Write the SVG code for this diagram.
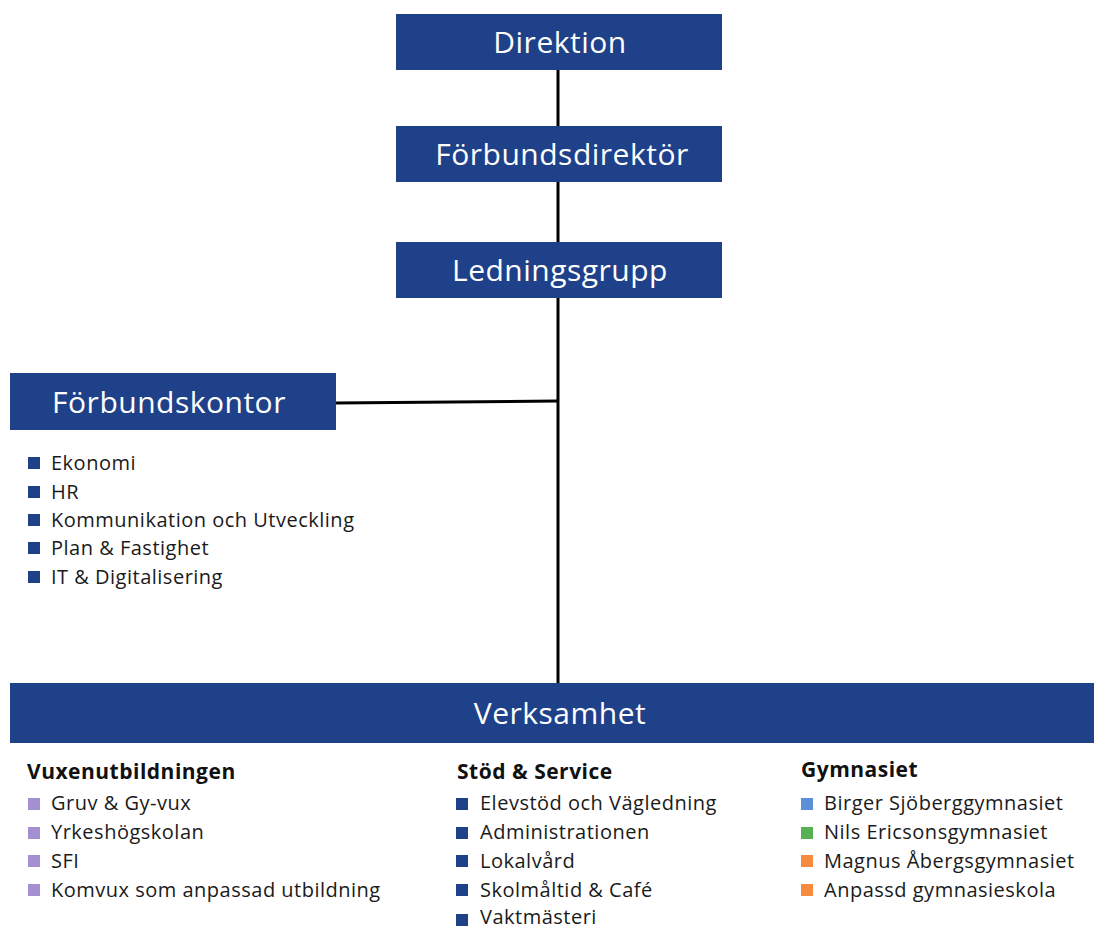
<svg xmlns="http://www.w3.org/2000/svg" width="1094" height="929" viewBox="0 0 1094 929">
<style>
.box{fill:#1e4189}
.bt{fill:#fff;font-family:"Open Sans","Noto Sans",sans-serif;font-size:30px;letter-spacing:0.5px;text-anchor:middle;dominant-baseline:central}
.li{fill:#1a1a1a;font-family:"Open Sans","Noto Sans",sans-serif;font-size:20px;letter-spacing:0.5px;dominant-baseline:central}
.hd{fill:#111;font-family:"Open Sans","Noto Sans",sans-serif;font-size:21px;letter-spacing:0.5px;font-weight:bold;dominant-baseline:central}
.conn{stroke:#000;stroke-width:3;fill:none}
.sq{fill:#1e4189}.pu{fill:#a38fd1}.bl{fill:#5b8fd8}.gr{fill:#58b055}.or{fill:#f68b40}
</style>
<rect width="1094" height="929" fill="#fff"/>
<g id="connectors">
<line class="conn" x1="558" y1="70" x2="558" y2="126"/>
<line class="conn" x1="558" y1="182" x2="558" y2="242"/>
<line class="conn" x1="558" y1="298" x2="558" y2="683"/>
<line class="conn" x1="336" y1="403" x2="558" y2="401"/>
</g>
<g id="direktion"><rect class="box" x="396" y="14" width="326" height="56"/><text class="bt" x="560" y="41">Direktion</text></g>
<g id="forbundsdirektor"><rect class="box" x="396" y="126" width="326" height="56"/><text class="bt" x="562" y="153">Förbundsdirektör</text></g>
<g id="ledningsgrupp"><rect class="box" x="396" y="242" width="326" height="56"/><text class="bt" x="560" y="269">Ledningsgrupp</text></g>
<g id="forbundskontor"><rect class="box" x="10" y="373" width="326" height="57"/><text class="bt" x="169" y="401">Förbundskontor</text>
<rect class="sq" x="28" y="457" width="12" height="12"/><text class="li" x="51" y="462">Ekonomi</text>
<rect class="sq" x="28" y="486" width="12" height="12"/><text class="li" x="51" y="491">HR</text>
<rect class="sq" x="28" y="514" width="12" height="12"/><text class="li" x="51" y="519">Kommunikation och Utveckling</text>
<rect class="sq" x="28" y="542" width="12" height="12"/><text class="li" x="51" y="547">Plan &amp; Fastighet</text>
<rect class="sq" x="28" y="571" width="12" height="12"/><text class="li" x="51" y="576">IT &amp; Digitalisering</text>
</g>
<g id="verksamhet"><rect class="box" x="10" y="683" width="1084" height="60"/><text class="bt" x="560" y="712">Verksamhet</text></g>
<g id="vuxenutbildningen">
<text class="hd" x="27" y="771">Vuxenutbildningen</text>
<rect class="pu" x="28" y="798" width="12" height="12"/><text class="li" x="51" y="802">Gruv &amp; Gy-vux</text>
<rect class="pu" x="28" y="827" width="12" height="12"/><text class="li" x="51" y="831">Yrkeshögskolan</text>
<rect class="pu" x="28" y="855" width="12" height="12"/><text class="li" x="51" y="860">SFI</text>
<rect class="pu" x="28" y="884" width="12" height="12"/><text class="li" x="51" y="889">Komvux som anpassad utbildning</text>
</g>
<g id="stod-service">
<text class="hd" x="457" y="771">Stöd &amp; Service</text>
<rect class="sq" x="456" y="798" width="12" height="12"/><text class="li" x="480" y="802">Elevstöd och Vägledning</text>
<rect class="sq" x="456" y="827" width="12" height="12"/><text class="li" x="480" y="831">Administrationen</text>
<rect class="sq" x="456" y="855" width="12" height="12"/><text class="li" x="480" y="860">Lokalvård</text>
<rect class="sq" x="456" y="884" width="12" height="12"/><text class="li" x="480" y="889">Skolmåltid &amp; Café</text>
<rect class="sq" x="456" y="914" width="12" height="12"/><text class="li" x="480" y="916">Vaktmästeri</text>
</g>
<g id="gymnasiet">
<text class="hd" x="801" y="769">Gymnasiet</text>
<rect class="bl" x="801" y="798" width="12" height="12"/><text class="li" x="824" y="802">Birger Sjöberggymnasiet</text>
<rect class="gr" x="801" y="827" width="12" height="12"/><text class="li" x="824" y="831">Nils Ericsonsgymnasiet</text>
<rect class="or" x="801" y="855" width="12" height="12"/><text class="li" x="824" y="860">Magnus Åbergsgymnasiet</text>
<rect class="or" x="801" y="884" width="12" height="12"/><text class="li" x="824" y="889">Anpassd gymnasieskola</text>
</g>
</svg>
